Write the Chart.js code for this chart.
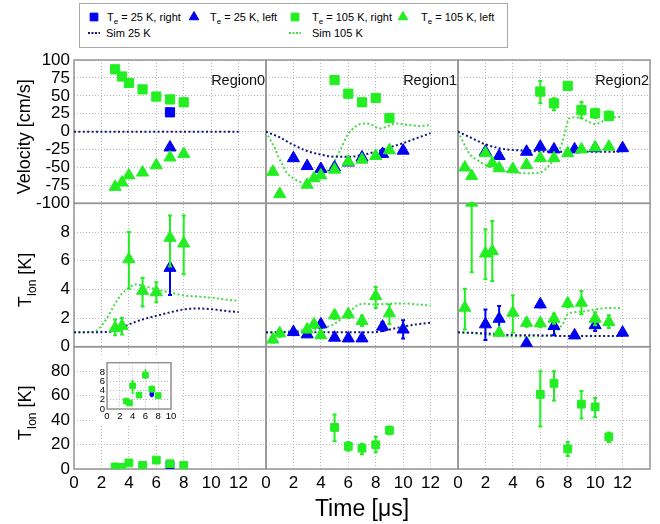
<!DOCTYPE html>
<html>
<head>
<meta charset="utf-8">
<title>Ion velocity and temperature</title>
<script src="https://cdn.jsdelivr.net/npm/chart.js@4.4.1/dist/chart.umd.min.js"></script>
<style>
  body { margin: 0; background: #fff; }
  #wrap { position: relative; width: 660px; height: 524px; font-family: "Liberation Sans", Arial, sans-serif; }
  #main { position: absolute; left: 0; top: 0; }
  #inset { position: absolute; left: 94px; top: 355px; background: #fff; }
  #legend { position: absolute; left: 79px; top: 3px; width: 427px; height: 43px; border: 1px solid #a8a8a8; background: #fff; }
  .item { position: absolute; font-size: 11px; line-height: 14px; color: #000; white-space: nowrap; }
  .item sub { font-size: 8px; vertical-align: -3px; line-height: 0; }
</style>
</head>
<body>
<div id="wrap">
  <canvas id="main" width="660" height="524"></canvas>
  <canvas id="inset" width="86" height="70"></canvas>
  <div id="legend"></div>
</div>
<script>
const BLUE = '#0000f0';
const GREEN = '#22ee22';
const NAVY = '#15157c';
const SIMGREEN = '#44dd44';
const GRID = '#b8b8b8';
const FRAME = '#959595';
const FONT = '"Liberation Sans", Arial, Helvetica, sans-serif';

const regionNames = ['Region0', 'Region1', 'Region2'];

// ---- Region 0 ----
const t0_105 = [3, 3.5, 4, 5, 6, 7, 8];
const velR105_0 = [87, 77, 68, 59, 49, 45, 41];
const velL105_0 = [-77, -71, -61, -57, -47, -36, -31];
const tiL105_0 = [1.3, 1.45, 6.1, 3.9, 3.8, 7.6, 7.2];
const tiL105Err_0 = [[0.8, 1.9], [0.85, 2.0], [4.05, 8.0], [2.8, 4.8], [3.1, 4.5], [5.6, 9.15], [5.05, 9.15]];
const tiR105_0 = [1.7, 1.3, 5.0, 3.0, 7.3, 4.3, 2.9];
const tiR105Err_0 = [[1.3, 2.1], [0.9, 1.7], [3.4, 6.1], [2.6, 3.4], [6.7, 8.4], [3.7, 4.9], [2.5, 3.3]];
const t0_25 = [7];
const velR25_0 = [27];
const velL25_0 = [-22];
const tiL25_0 = [5.5];
const tiL25Err_0 = [[3.6, 7.4]];
const tiR25_0 = [3.2];
const tiR25Err_0 = [[2.7, 3.7]];

const simT0v = [0, 3, 6, 9, 12];
const simV25_0 = [0, 0, 0, 0, 0];
const simT0t25 = [0, 2, 3, 4, 5, 6, 7, 8, 9, 10, 11, 12];
const simTi25_0 = [1.0, 1.02, 1.1, 1.55, 1.9, 2.15, 2.4, 2.6, 2.67, 2.62, 2.5, 2.42];
const simT0t105 = [0, 1, 1.6, 2, 2.5, 3, 3.5, 4, 4.5, 5, 6, 7, 8, 9, 10, 11, 12];
const simTi105_0 = [1.0, 1.02, 1.1, 1.45, 2.15, 3.0, 3.7, 4.1, 4.35, 4.25, 4.0, 3.78, 3.58, 3.5, 3.42, 3.3, 3.2];

// ---- Region 1 ----
const t1_105L = [0.5, 1, 3, 3.5, 4, 5, 6, 7, 8, 9];
const velL105_1 = [-56, -87, -74, -65, -61, -53, -42, -39, -34, -26];
const tiL105_1 = [0.5, 0.93, 1.2, 1.56, 0.8, 2.19, 2.26, 1.8, 3.53, 2.33];
const tiL105Err_1 = [[0.3, 0.7], [0.7, 1.15], [1.0, 1.4], [1.3, 1.8], [0.6, 1.0], [1.95, 2.45], [2.0, 2.5], [1.45, 2.15], [2.7, 4.16], [1.56, 2.95]];
const t1_105R = [5, 6, 7, 8, 9];
const velR105_1 = [72, 53, 41, 47, 19];
const tiR105_1 = [34, 18.6, 17, 19.8, 31.6];
const tiR105Err_1 = [[22.6, 44.6], [15, 22], [12.1, 20.6], [13.6, 26.3], [28.5, 34.7]];
const t1_25L = [2, 3, 4, 5, 6, 7, 8.5, 10];
const velL25_1 = [-37, -48, -52, -50, -43, -36, -31, -26.5];
const tiL25_1 = [1.02, 0.86, 1.56, 0.63, 0.58, 0.58, 1.4, 1.2];
const tiL25Err_1 = [[0.85, 1.2], [0.7, 1.0], [1.3, 1.8], [0.5, 0.75], [0.45, 0.7], [0.45, 0.7], [1.1, 1.7], [0.58, 1.84]];

const simT1v25 = [0, 1, 2, 3, 4, 5, 6, 7, 8, 9, 10, 11, 12];
const simV25_1 = [0, -8, -18.5, -27, -32, -35, -35, -32.5, -28, -22, -16, -9, -2];
const simT1v105 = [0, 0.3, 0.65, 0.9, 1.2, 1.5, 1.9, 2.5, 3, 3.6, 4.1, 4.7, 5.4, 5.9, 6.6, 7.1, 7.6, 8.3, 8.8, 9.5, 10.3, 11.2, 12];
const simV105_1 = [0, -11, -23, -35, -46, -57, -64, -70, -71, -65, -60, -50, -26, -6, 8, 11.5, 10.5, 4.5, 7, 11.5, 9.5, 8, 9];
const simT1t25 = [0, 2, 4, 6, 8, 9, 10, 11, 12];
const simTi25_1 = [1.0, 1.0, 1.0, 1.0, 1.02, 1.2, 1.4, 1.56, 1.67];
const simT1t105 = [0, 2, 4, 5, 5.5, 6, 6.6, 7.1, 8, 9, 10, 11, 12];
const simTi105_1 = [0.95, 1.1, 1.26, 1.6, 1.95, 2.35, 2.85, 3.0, 2.95, 3.0, 3.02, 2.95, 2.88];

// ---- Region 2 ----
const t2_105L = [0.5, 1, 2, 2.5, 3, 4, 5, 6, 7, 8, 9, 10, 11];
const velL105_2 = [-50, -62, -30, -44, -51, -52, -46.5, -37, -37, -30, -24.7, -22, -21];
const tiL105_2 = [2.72, 10.05, 6.5, 6.67, 0.98, 2.37, 1.67, 1.63, 1.95, 3.02, 3.07, 1.95, 1.72];
const tiL105Err_2 = [[1.2, 4.05], [5.2, 10.05], [4.7, 8.2], [4.58, 8.77], [0.85, 1.15], [0.98, 3.58], [1.4, 1.95], [1.35, 1.9], [1.6, 2.3], [2.75, 3.3], [2.26, 3.88], [1.5, 2.4], [1.3, 2.2]];
const t2_105R = [6, 7, 8, 9, 10, 11];
const velR105_2 = [56, 39.5, 64, 30, 25.6, 22];
const velR105Err_2 = [[39.5, 70.7], [30, 46.5], [60, 68], [18.6, 41.9], [19, 32], [16, 28]];
const tiR105_2 = [61, 70, 16.4, 53, 50.8, 26.3];
const tiR105Err_2 = [[34.7, 80], [56, 80], [10.7, 22], [41.2, 63.8], [42.4, 58], [22, 29.9]];
const t2_25L = [2, 3, 5, 6, 7, 8.5, 10, 12];
const velL25_2 = [-28, -34, -28, -21, -24.7, -24.7, -23, -23];
const tiL25_2 = [1.56, 1.95, 0.23, 2.95, 1.44, 0.79, 1.5, 0.98];
const tiL25Err_2 = [[0.47, 2.6], [1.1, 2.84], [0.15, 0.3], [2.75, 3.2], [0.8, 1.9], [0.7, 0.9], [1.1, 1.8], [0.9, 1.05]];

const simT2v25 = [0, 0.9, 2, 3, 4, 5, 6, 8, 10, 12];
const simV25_2 = [0, -8, -17.7, -23, -25.6, -26.5, -27.5, -28, -28, -28];
const simT2v105 = [0, 0.3, 0.6, 0.9, 1.4, 2, 3, 4, 5, 6, 6.5, 7, 7.5, 7.7, 7.9, 8.1, 8.5, 9, 9.5, 10, 10.5, 11, 12];
const simV105_2 = [0, -11.5, -23, -32.5, -39.5, -46.5, -53.5, -57, -58, -57, -50, -38, -20, -9, 7, 18.6, 20, 18.6, 14, 10.7, 14, 19, 21];
const simT2t25 = [0, 2, 4, 6, 8, 10, 12];
const simTi25_2 = [1.0, 0.93, 0.81, 0.79, 0.74, 0.74, 0.74];
const simT2t105 = [0, 1, 2, 3, 4, 5, 6, 7, 7.4, 7.7, 8, 9, 10, 11, 12];
const simTi105_2 = [1.0, 0.95, 0.85, 0.74, 0.72, 0.72, 0.74, 0.9, 1.3, 1.67, 2.26, 2.45, 2.6, 2.7, 2.67];

const markStyle = {
  r25: { color: BLUE, shape: 'rect', order: 2, size: 6.5 },
  l25: { color: BLUE, shape: 'triangle', order: 2, size: 7 },
  r105: { color: GREEN, shape: 'rect', order: 1, size: 6.5 },
  l105: { color: GREEN, shape: 'triangle', order: 1, size: 7 }
};
const rowAxis = ['yVel', 'yTion', 'yTion2'];

function pairs(ts, vs) {
  return ts.map((t, i) => ({ x: t, y: vs[i] }));
}

function marks(col, row, kind, ts, vs, errs, radius) {
  const st = markStyle[kind];
  const r = radius || st.size;
  return {
    data: pairs(ts, vs),
    errors: errs || null,
    xAxisID: 'x' + col, yAxisID: rowAxis[row],
    pointStyle: st.shape, pointRadius: r, pointHoverRadius: r,
    backgroundColor: st.color, borderColor: st.color, borderWidth: 1,
    showLine: false, order: st.order
  };
}

function sim(col, row, temp, ts, vs) {
  return {
    data: pairs(ts, vs),
    xAxisID: 'x' + col, yAxisID: rowAxis[row],
    showLine: true, pointRadius: 0, borderWidth: 2, borderDash: [2, 2.4],
    borderColor: temp === 25 ? NAVY : SIMGREEN,
    cubicInterpolationMode: 'monotone', order: 3
  };
}

const datasets = [
  marks(0, 0, 'r105', t0_105, velR105_0),
  marks(0, 0, 'l105', t0_105, velL105_0),
  marks(0, 0, 'r25', t0_25, velR25_0),
  marks(0, 0, 'l25', t0_25, velL25_0),
  marks(0, 1, 'l105', t0_105, tiL105_0, tiL105Err_0),
  marks(0, 1, 'l25', t0_25, tiL25_0, tiL25Err_0),
  marks(0, 2, 'r105', t0_105, tiR105_0, tiR105Err_0, 5.5),
  marks(0, 2, 'r25', t0_25, tiR25_0, tiR25Err_0, 5.5),
  sim(0, 0, 25, simT0v, simV25_0),
  sim(0, 1, 25, simT0t25, simTi25_0),
  sim(0, 1, 105, simT0t105, simTi105_0),

  marks(1, 0, 'r105', t1_105R, velR105_1),
  marks(1, 0, 'l105', t1_105L, velL105_1),
  marks(1, 0, 'l25', t1_25L, velL25_1),
  marks(1, 1, 'l105', t1_105L, tiL105_1, tiL105Err_1),
  marks(1, 1, 'l25', t1_25L, tiL25_1, tiL25Err_1),
  marks(1, 2, 'r105', t1_105R, tiR105_1, tiR105Err_1, 5.5),
  sim(1, 0, 25, simT1v25, simV25_1),
  sim(1, 0, 105, simT1v105, simV105_1),
  sim(1, 1, 25, simT1t25, simTi25_1),
  sim(1, 1, 105, simT1t105, simTi105_1),

  marks(2, 0, 'r105', t2_105R, velR105_2, velR105Err_2),
  marks(2, 0, 'l105', t2_105L, velL105_2),
  marks(2, 0, 'l25', t2_25L, velL25_2),
  marks(2, 1, 'l105', t2_105L, tiL105_2, tiL105Err_2),
  marks(2, 1, 'l25', t2_25L, tiL25_2, tiL25Err_2),
  marks(2, 2, 'r105', t2_105R, tiR105_2, tiR105Err_2, 5.5),
  sim(2, 0, 25, simT2v25, simV25_2),
  sim(2, 0, 105, simT2v105, simV105_2),
  sim(2, 1, 25, simT2t25, simTi25_2),
  sim(2, 1, 105, simT2t105, simTi105_2)
];

// vertical error bars, drawn just under each dataset's markers
const errorBars = {
  id: 'errorBars',
  beforeDatasetDraw(chart, args) {
    const ds = chart.data.datasets[args.index];
    if (!ds.errors) return;
    const xs = chart.scales[args.meta.xAxisID];
    const ys = chart.scales[args.meta.yAxisID];
    const cap = ds.capHalf || 2;
    const ctx = chart.ctx;
    ctx.save();
    ctx.strokeStyle = ds.borderColor;
    ctx.lineWidth = ds.errWidth || 2;
    ds.errors.forEach((e, i) => {
      const x = xs.getPixelForValue(ds.data[i].x);
      const lo = ys.getPixelForValue(e[0]);
      const hi = ys.getPixelForValue(e[1]);
      ctx.beginPath();
      ctx.moveTo(x, lo); ctx.lineTo(x, hi);
      ctx.moveTo(x - cap, lo); ctx.lineTo(x + cap, lo);
      ctx.moveTo(x - cap, hi); ctx.lineTo(x + cap, hi);
      ctx.stroke();
    });
    ctx.restore();
  }
};

// solid box round every panel
const frames = {
  id: 'frames',
  beforeDatasetsDraw(chart) {
    const all = Object.values(chart.scales);
    const xs = all.filter(s => s.axis === 'x');
    const ys = all.filter(s => s.axis === 'y');
    const ctx = chart.ctx;
    ctx.save();
    ctx.strokeStyle = FRAME;
    ctx.lineWidth = 1.5;
    xs.forEach(sx => ys.forEach(sy => {
      ctx.strokeRect(sx.left, sy.top, sx.right - sx.left, sy.bottom - sy.top);
    }));
    ctx.restore();
  }
};

const regionLabels = {
  id: 'regionLabels',
  afterDatasetsDraw(chart) {
    const ctx = chart.ctx;
    const yv = chart.scales.yVel;
    ctx.save();
    ctx.font = '14.5px ' + FONT;
    ctx.fillStyle = '#111';
    ctx.textAlign = 'left';
    ctx.textBaseline = 'middle';
    regionNames.forEach((name, c) => {
      const sx = chart.scales['x' + c];
      ctx.fillText(name, sx.getPixelForValue(10), yv.getPixelForValue(71));
    });
    ctx.restore();
  }
};

function rotatedTitle(ctx, baseX, midY, parts) {
  let total = 0;
  parts.forEach(p => {
    ctx.font = p.size + 'px ' + FONT;
    p.w = ctx.measureText(p.text).width;
    total += p.w;
  });
  ctx.save();
  ctx.translate(baseX, midY);
  ctx.rotate(-Math.PI / 2);
  ctx.fillStyle = '#000';
  ctx.textBaseline = 'alphabetic';
  let x = -total / 2;
  parts.forEach(p => {
    ctx.font = p.size + 'px ' + FONT;
    ctx.fillText(p.text, x, p.dy || 0);
    x += p.w;
  });
  ctx.restore();
}

// y titles, with the subscript in T_Ion
const yTitles = {
  id: 'yTitles',
  afterDraw(chart) {
    const ctx = chart.ctx;
    const mid = s => (s.top + s.bottom) / 2 + 5;
    rotatedTitle(ctx, 30, mid(chart.scales.yVel), [{ text: 'Velocity [cm/s]', size: 18 }]);
    ['yTion', 'yTion2'].forEach(id => {
      rotatedTitle(ctx, 31, mid(chart.scales[id]), [
        { text: 'T', size: 18 },
        { text: 'Ion', size: 12, dy: 4.5 },
        { text: ' [K]', size: 18 }
      ]);
    });
  }
};

function timeAxis(col) {
  return {
    type: 'linear', position: 'bottom', stack: 'time', stackWeight: 1, weight: col + 1,
    min: 0, max: 14,
    afterFit: s => { s.height = 55; },
    ticks: {
      stepSize: 2, autoSkip: false, maxRotation: 0, padding: 4, color: '#000',
      font: { size: 17, family: FONT },
      callback: v => (v === 14 ? '' : String(v))
    },
    grid: { color: GRID, lineWidth: 1, drawTicks: false },
    border: { display: false, dash: [1, 2] },
    title: {
      display: col === 1, text: 'Time [\u03bcs]', color: '#000',
      font: { size: 23, family: FONT }, padding: { top: 0, bottom: 1 }
    }
  };
}

function rowScale(weight, stackWeight, min, max, step) {
  return {
    type: 'linear', position: 'left', stack: 'rows', stackWeight, weight,
    min, max,
    afterFit: s => { s.width = 74; },
    ticks: {
      stepSize: step, autoSkip: false, padding: 4, color: '#000',
      font: { size: 17, family: FONT },
      callback: v => ((v === max && min === 0) ? '' : String(v))
    },
    grid: { color: GRID, lineWidth: 1, drawTicks: false },
    border: { display: false, dash: [1, 2] }
  };
}

new Chart(document.getElementById('main'), {
  type: 'scatter',
  data: { datasets },
  options: {
    responsive: false,
    animation: false,
    events: [],
    layout: { padding: { top: 60, right: 10, left: 0, bottom: 0 } },
    plugins: { legend: { display: false }, tooltip: { enabled: false } },
    scales: {
      x0: timeAxis(0),
      x1: timeAxis(1),
      x2: timeAxis(2),
      yVel: rowScale(3, 143, -100, 100, 25),
      yTion: rowScale(2, 143, 0, 10, 2),
      yTion2: rowScale(1, 122, 0, 100, 20)
    }
  },
  plugins: [frames, errorBars, regionLabels, yTitles]
});

// zoomed view of the region 0 right-going temperatures
const insetSets = [
  marks(0, 2, 'r105', t0_105, tiR105_0, tiR105Err_0, 4),
  marks(0, 2, 'r25', t0_25, tiR25_0, tiR25Err_0, 2.5)
].map(d => Object.assign(d, { xAxisID: 'x', yAxisID: 'y', errWidth: 1.5, capHalf: 1 }));

const insetTicks = { size: 9.5, family: FONT };
new Chart(document.getElementById('inset'), {
  type: 'scatter',
  data: { datasets: insetSets },
  options: {
    responsive: false,
    animation: false,
    events: [],
    layout: { padding: { top: 4, right: 9, left: 0, bottom: 0 } },
    plugins: { legend: { display: false }, tooltip: { enabled: false } },
    scales: {
      x: {
        type: 'linear', min: 0, max: 10,
        afterFit: s => { s.height = 16; },
        ticks: { stepSize: 2, autoSkip: false, maxRotation: 0, padding: 2, color: '#000', font: insetTicks },
        grid: { color: GRID, drawTicks: false },
        border: { display: false, dash: [1, 2] }
      },
      y: {
        type: 'linear', min: 0, max: 10,
        afterFit: s => { s.width = 13; },
        ticks: {
          stepSize: 2, autoSkip: false, padding: 2, color: '#000', font: insetTicks,
          callback: v => (v === 10 ? '' : String(v))
        },
        grid: { color: GRID, drawTicks: false },
        border: { display: false, dash: [1, 2] }
      }
    }
  },
  plugins: [frames, errorBars]
});

// legend: markers use the same point drawing as the chart
const legendItems = [
  ['r25', 'T<sub>e</sub> = 25 K, right'],
  ['l25', 'T<sub>e</sub> = 25 K, left'],
  ['r105', 'T<sub>e</sub> = 105 K, right'],
  ['l105', 'T<sub>e</sub> = 105 K, left'],
  ['s25', 'Sim 25 K'],
  ['s105', 'Sim 105 K']
];
const legendSlots = [[14, 27, 13], [114, 130, 13], [215, 232, 13], [323, 341, 13], [14, 26, 29], [215, 232, 29]];

const legendBox = document.getElementById('legend');
legendItems.forEach(([key, html], i) => {
  const [mx, tx, cy] = legendSlots[i];
  const c = document.createElement('canvas');
  c.width = 16; c.height = 14;
  c.style.cssText = 'position:absolute;left:' + (mx - 8) + 'px;top:' + (cy - 7) + 'px';
  const g = c.getContext('2d');
  if (key[0] === 's') {
    g.strokeStyle = key === 's25' ? NAVY : SIMGREEN;
    g.lineWidth = 2;
    g.setLineDash([2, 1.5]);
    g.beginPath(); g.moveTo(2, 7); g.lineTo(14, 7); g.stroke();
  } else {
    const st = markStyle[key];
    g.fillStyle = st.color; g.strokeStyle = st.color;
    Chart.helpers.drawPoint(g, { pointStyle: st.shape, radius: 5.5, rotation: 0, borderWidth: 1 }, 8, 7);
  }
  legendBox.appendChild(c);
  const t = document.createElement('div');
  t.className = 'item';
  t.innerHTML = html;
  t.style.left = tx + 'px';
  t.style.top = (cy - 7) + 'px';
  legendBox.appendChild(t);
});
</script>
</body>
</html>
